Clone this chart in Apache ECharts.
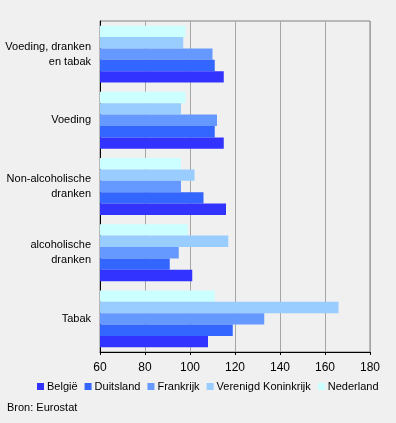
<!DOCTYPE html>
<html>
<head>
<meta charset="utf-8">
<script src="https://cdn.jsdelivr.net/npm/echarts@6/dist/echarts.min.js"></script>
<style>
  html, body { margin: 0; padding: 0; background: #f0f0f0; }
  #chart { width: 396px; height: 423px; }
</style>
</head>
<body>
<div id="chart"></div>
<script>
// categorieën van boven naar onder
const categories = ['Voeding, dranken\nen tabak', 'Voeding', 'Non-alcoholische\ndranken', 'alcoholische\ndranken', 'Tabak'];
const belgie = [115, 115, 116, 101, 108];
const duitsland = [111, 111, 106, 91, 119];
const frankrijk = [110, 112, 96, 95, 133];
const verenigdKoninkrijk = [97, 96, 102, 117, 166];
const nederland = [98, 98, 96, 99, 111];
const xTicks = [60, 80, 100, 120, 140, 160, 180];

const seriesList = [
  {name: 'België', data: belgie, color: '#3333ff'},
  {name: 'Duitsland', data: duitsland, color: '#3366ff'},
  {name: 'Frankrijk', data: frankrijk, color: '#6699ff'},
  {name: 'Verenigd Koninkrijk', data: verenigdKoninkrijk, color: '#99ccff'},
  {name: 'Nederland', data: nederland, color: '#ccffff'}
];

const chart = echarts.init(document.getElementById('chart'));
chart.setOption({
  backgroundColor: '#f0f0f0',
  animation: false,
  textStyle: {fontFamily: 'Arial, "Liberation Sans", sans-serif'},
  grid: {
    left: 100, right: 26, top: 21, bottom: 71,
    show: true, borderColor: '#808080', borderWidth: 1, backgroundColor: 'transparent'
  },
  legend: {
    left: 35, top: 379, width: 380, padding: 2,
    itemWidth: 7, itemHeight: 7, itemGap: 7,
    icon: 'rect',
    textStyle: {fontSize: 11, color: '#000', padding: [0, 0, 0, -2]},
    data: seriesList.map(s => s.name)
  },
  graphic: [{
    type: 'text', left: 7, top: 402,
    style: {text: 'Bron: Eurostat', fontSize: 11, fill: '#000', fontFamily: 'Arial, "Liberation Sans", sans-serif'}
  }],
  xAxis: {
    type: 'value', min: xTicks[0], max: xTicks[xTicks.length - 1], interval: 20,
    axisLine: {show: true, lineStyle: {color: '#000', width: 1}},
    axisTick: {show: true, length: 3, lineStyle: {color: '#000'}},
    axisLabel: {fontSize: 12, color: '#000', margin: 10},
    splitLine: {show: true, lineStyle: {color: '#a6a6a6', width: 1}}
  },
  yAxis: {
    type: 'category', data: categories, inverse: true,
    axisLine: {show: true, lineStyle: {color: '#000', width: 1}},
    axisTick: {show: false},
    axisLabel: {fontSize: 11, color: '#000', margin: 9, lineHeight: 15, align: 'right'}
  },
  series: seriesList.map(s => ({
    name: s.name, type: 'bar', data: s.data,
    itemStyle: {color: s.color},
    barGap: '0%', barCategoryGap: '14%'
  })).reverse()
});
</script>
</body>
</html>
